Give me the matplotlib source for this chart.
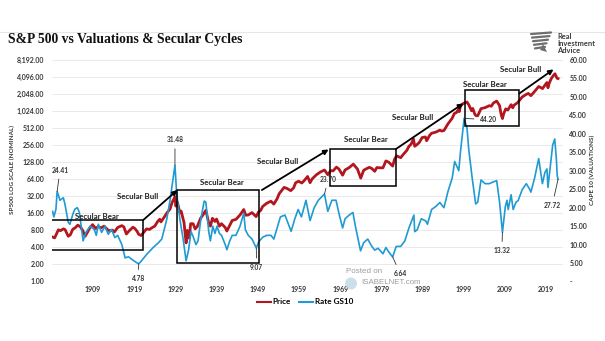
import matplotlib
matplotlib.use("Agg")
import matplotlib.pyplot as plt
from matplotlib.lines import Line2D
from matplotlib.patches import Rectangle, Ellipse, Polygon

plt.rcParams["font.family"] = ["Lato", "DejaVu Sans"]

# S&P 500 composite price (nominal)
price_years = [
    1900.0, 1900.5, 1901.0, 1901.4, 1901.9, 1902.6, 1903.0, 1903.8, 1904.3, 1904.9,
    1905.5, 1906.1, 1906.7, 1907.3, 1907.9, 1908.5, 1909.0, 1909.7, 1910.5, 1911.0,
    1911.8, 1912.5, 1913.3, 1913.9, 1914.5, 1915.0, 1915.8, 1916.8, 1917.3, 1917.9,
    1918.6, 1919.5, 1920.0, 1920.5, 1920.9, 1921.5, 1922.2, 1922.8, 1923.5, 1924.0,
    1924.8, 1925.5, 1926.0, 1926.3, 1927.0, 1927.8, 1928.5, 1929.0, 1929.7, 1929.9,
    1930.3, 1930.9, 1931.2, 1931.9, 1932.4, 1932.7, 1933.0, 1933.2, 1933.5, 1934.1,
    1934.6, 1935.1, 1935.9, 1936.5, 1937.2, 1937.9, 1938.3, 1938.8, 1939.4, 1939.8,
    1940.5, 1941.0, 1941.9, 1942.3, 1942.9, 1943.6, 1944.5, 1945.5, 1946.4, 1946.9,
    1947.5, 1948.4, 1949.4, 1950.0, 1950.5, 1951.0, 1952.0, 1953.0, 1953.7, 1954.5,
    1955.0, 1956.2, 1956.9, 1957.8, 1958.5, 1959.0, 1959.7, 1960.5, 1961.0, 1961.9,
    1962.5, 1963.0, 1964.0, 1965.0, 1966.0, 1966.8, 1967.5, 1968.1, 1968.9, 1969.5,
    1970.4, 1971.0, 1972.0, 1973.0, 1973.6, 1974.0, 1974.8, 1975.5, 1976.0, 1976.9,
    1977.5, 1978.2, 1978.7, 1979.5, 1980.2, 1980.9, 1981.6, 1982.55, 1983.0, 1983.5,
    1984.5, 1985.0, 1986.0, 1986.5, 1987.0, 1987.6, 1987.9, 1988.5, 1989.0, 1989.7,
    1990.5, 1990.8, 1991.0, 1991.5, 1992.0, 1993.0, 1994.0, 1994.5, 1995.0, 1996.0,
    1997.0, 1997.5, 1998.0, 1998.6, 1998.7, 1999.0, 1999.5, 2000.0, 2000.6, 2001.0,
    2001.7, 2002.0, 2002.5, 2002.8, 2003.2, 2004.0, 2005.0, 2006.0, 2006.5, 2007.0,
    2007.8, 2008.5, 2008.9, 2009.2, 2009.5, 2010.0, 2010.5, 2011.3, 2011.7, 2012.0,
    2012.8, 2013.0, 2014.0, 2015.0, 2015.5, 2016.1, 2017.0, 2018.0, 2018.95, 2019.5,
    2020.0, 2020.25, 2020.5, 2021.0, 2021.5, 2021.95, 2022.45, 2022.7,
]
price_values = [
    6.1, 5.9, 7.1, 8.2, 7.9, 8.5, 8.3, 6.3, 6.7, 8.4,
    8.9, 9.9, 9.3, 8.0, 6.3, 7.5, 8.8, 10.1, 8.6, 9.3,
    8.9, 9.5, 8.3, 7.8, 8.1, 7.5, 9.0, 9.7, 9.2, 6.9,
    7.9, 9.1, 8.6, 7.7, 6.8, 6.5, 7.5, 8.5, 8.3, 8.8,
    9.5, 11.5, 12.6, 11.3, 13.4, 16.5, 19.0, 24.9, 31.3, 21.5,
    25.0, 16.5, 17.5, 11.0, 4.8, 8.0, 7.0, 5.8, 10.5, 10.5,
    8.5, 9.3, 13.0, 15.0, 18.1, 10.8, 9.5, 13.1, 11.5, 12.7,
    9.5, 10.5, 9.0, 7.8, 9.5, 12.0, 12.5, 15.0, 18.7, 14.8,
    15.0, 16.5, 14.0, 16.9, 18.0, 21.2, 24.2, 26.2, 23.3, 29.0,
    35.6, 46.0, 44.0, 40.3, 45.0, 55.6, 59.0, 55.0, 59.7, 71.7,
    55.6, 65.0, 76.5, 86.0, 93.3, 77.0, 91.0, 90.0, 105.0, 97.0,
    75.6, 93.5, 103.0, 118.4, 105.0, 97.0, 67.0, 92.0, 96.9, 104.0,
    99.0, 88.5, 103.0, 102.0, 102.0, 135.0, 128.0, 109.4, 144.3, 166.0,
    154.0, 171.6, 208.0, 245.0, 264.5, 329.0, 245.0, 264.0, 285.4, 349.0,
    358.0, 307.0, 325.0, 380.0, 416.0, 435.0, 472.0, 454.0, 465.0, 614.0,
    766.0, 925.0, 963.0, 1120.0, 1000.0, 1248.0, 1370.0, 1425.0, 1480.0, 1335.0,
    1040.0, 1140.0, 900.0, 850.0, 850.0, 1132.0, 1181.0, 1278.0, 1250.0, 1424.0,
    1540.0, 1280.0, 880.0, 757.0, 920.0, 1123.0, 1070.0, 1330.0, 1170.0, 1300.0,
    1430.0, 1480.0, 1822.0, 2028.0, 2100.0, 1918.0, 2275.0, 2790.0, 2560.0, 2940.0,
    3278.0, 2650.0, 3100.0, 3793.0, 4300.0, 4680.0, 3900.0, 3850.0,
]

# Shiller CAPE 10
cape_years = [
    1900.0, 1900.3, 1900.8, 1901.1, 1901.8, 1902.6, 1903.0, 1903.8, 1904.2, 1904.9,
    1905.4, 1906.0, 1906.5, 1907.4, 1908.1, 1909.1, 1910.1, 1910.6, 1911.1, 1911.9,
    1912.7, 1913.5, 1914.3, 1915.1, 1915.8, 1916.8, 1917.6, 1918.4, 1919.6, 1920.4,
    1920.9, 1921.5, 1922.8, 1924.4, 1925.7, 1926.5, 1927.7, 1928.5, 1929.7, 1930.1,
    1930.9, 1931.7, 1932.4, 1933.0, 1933.6, 1934.0, 1934.8, 1935.3, 1936.0, 1936.8,
    1937.2, 1937.9, 1938.3, 1938.9, 1939.4, 1939.9, 1940.5, 1941.0, 1941.9, 1942.3,
    1943.0, 1943.6, 1944.5, 1945.5, 1946.4, 1946.8, 1947.5, 1948.4, 1949.45, 1950.0,
    1951.0, 1952.0, 1953.0, 1953.7, 1954.5, 1955.3, 1956.4, 1957.9, 1958.8, 1959.6,
    1960.4, 1961.5, 1962.5, 1963.5, 1964.5, 1965.4, 1966.0, 1966.8, 1967.8, 1968.8,
    1969.6, 1970.4, 1971.0, 1972.0, 1972.9, 1973.5, 1974.75, 1975.5, 1976.5, 1977.5,
    1978.2, 1979.0, 1980.2, 1980.9, 1981.6, 1982.55, 1983.4, 1984.5, 1985.5, 1986.5,
    1987.7, 1987.9, 1988.5, 1989.5, 1990.6, 1991.0, 1992.0, 1993.0, 1994.0, 1995.0,
    1996.0, 1997.0, 1997.6, 1998.6, 1999.0, 1999.9, 2000.6, 2001.0, 2001.8, 2002.7,
    2003.2, 2004.0, 2005.0, 2006.0, 2007.0, 2007.8, 2008.5, 2009.2, 2009.9, 2010.3,
    2010.6, 2011.3, 2011.8, 2012.5, 2013.0, 2014.0, 2015.0, 2015.8, 2016.1, 2017.0,
    2018.0, 2018.9, 2019.5, 2020.0, 2020.25, 2020.9, 2021.4, 2021.9, 2022.3, 2022.5,
    2022.7,
]
cape_values = [
    19.0, 17.5, 19.5, 24.41, 22.0, 22.7, 20.9, 16.0, 15.5, 18.2,
    19.6, 20.0, 18.7, 11.0, 13.3, 15.0, 14.1, 12.5, 15.5, 13.3,
    15.0, 12.8, 14.1, 11.9, 12.5, 10.0, 6.4, 6.7, 5.7, 5.1,
    4.78, 5.5, 7.3, 9.2, 10.5, 11.5, 16.8, 22.0, 31.48, 24.0,
    16.8, 11.4, 5.6, 8.5, 13.5, 12.5, 10.0, 11.0, 17.0, 21.8,
    21.5, 13.5, 11.0, 15.0, 13.0, 15.0, 13.0, 12.5, 10.0, 8.6,
    11.0, 12.5, 12.5, 15.0, 18.5, 14.0, 12.5, 11.5, 9.07, 10.7,
    12.0, 12.5, 12.5, 11.5, 14.5, 17.5, 18.0, 13.6, 17.0, 19.5,
    17.5, 22.0, 16.5, 20.0, 22.0, 23.0, 23.7, 19.0, 22.0, 22.0,
    18.0, 14.5, 17.0, 18.0, 18.7, 15.0, 8.3, 10.5, 11.5, 9.5,
    8.5, 9.0, 7.5, 9.2, 8.0, 6.64, 9.5, 9.5, 11.0, 14.5,
    18.0, 13.5, 14.0, 17.0, 16.4, 15.5, 19.5, 20.3, 21.4, 20.0,
    24.5, 28.0, 32.5, 30.0, 35.0, 44.2, 41.5, 36.0, 28.5, 21.0,
    21.5, 27.5, 26.5, 26.5, 27.0, 27.3, 21.5, 13.32, 20.3, 22.0,
    19.5, 23.5, 19.5, 21.5, 21.9, 24.9, 26.5, 25.0, 24.2, 28.0,
    33.3, 26.5, 29.5, 30.5, 25.5, 32.0, 37.0, 38.6, 33.0, 28.6,
    27.72,
]

year_labels = ["1909", "1919", "1929", "1939", "1949", "1959", "1969",
               "1979", "1989", "1999", "2009", "2019"]

# secular bear boxes: (start, end, price low, price high)
bear_boxes = [(1899.2, 1922.0, 3.6, 12.2), (1930.3, 1950.0, 2.15, 41.3),
              (1967.4, 1983.3, 49.0, 218.0), (2000.1, 2013.3, 556.0, 2400.0)]
# secular bull arrows: (start year, start price, end year, end price)
bull_arrows = [(1922.0, 12.2, 1930.3, 41.3), (1950.8, 41.3, 1967.0, 215.0),
               (1983.3, 218.0, 1999.7, 1400.0), (2013.3, 2100.0, 2021.6, 5590.0)]
bear_text = [(1910.7, 14.3), (1941.05, 57.0), (1976.0, 328.0), (2005.0, 3070.0)]
bull_text = [(1920.7, 32.3), (1954.7, 134.0), (1987.5, 803.0), (2013.5, 5640.0)]

# CAPE callouts: label, point (year, value), text position (year, value)
cape_notes = [
    ("24.41", 1901.1, 24.41, 1901.8, 30.2),
    ("4.78", 1920.9, 4.78, 1920.8, 0.8),
    ("31.48", 1929.7, 31.48, 1929.7, 38.4),
    ("9.07", 1949.45, 9.07, 1949.55, 3.9),
    ("23.70", 1966.0, 23.7, 1966.9, 27.7),
    ("6.64", 1982.55, 6.64, 1984.35, 2.2),
    ("44.20", 1999.9, 44.2, 2005.7, 43.8),
    ("13.32", 2009.2, 13.32, 2009.05, 8.4),
    ("27.72", 2022.7, 27.72, 2021.3, 20.7),
]

RED = "#B3161E"
BLUE = "#1F9AD3"
TXT = "#383838"
W, H = 605, 341

fig = plt.figure(figsize=(W / 100, H / 100), dpi=100)
ax = fig.add_axes([52 / W, 1 - 281.5 / H, 511 / W, 221.5 / H])
ax2 = ax.twinx()

ax.plot(price_years, price_values, color=RED, lw=2.0, zorder=3)
ax.set_yscale("log", base=2)
ax.set_ylim(1, 8192)
ax.set_xlim(1899.85, 2023.9)
left_ticks = [2 ** i for i in range(14)]
ax.set_yticks(left_ticks)
ax.set_yticklabels([f"{v:,.2f}" for v in left_ticks])
ax.yaxis.set_minor_locator(plt.NullLocator())
ax.set_xticks([int(y) + 0.8 for y in year_labels])
ax.set_xticklabels(year_labels)
ax.grid(axis="y", color="#E6E6E6", lw=0.6)
ax.set_axisbelow(True)
ax.tick_params(axis="y", length=0, pad=5.5, labelsize=5.0, labelcolor=TXT)
ax.tick_params(axis="x", length=0, pad=3.5, labelsize=5.0, labelcolor=TXT)
for lab in ax.get_xticklabels() + ax.get_yticklabels():
    lab.set_fontweight("bold")

ax2.plot(cape_years, cape_values, color=BLUE, lw=1.2, zorder=3)
ax2.set_ylim(0, 60)
right_ticks = list(range(0, 61, 5))
ax2.set_yticks(right_ticks)
ax2.set_yticklabels(["-" if v == 0 else f"{v:.2f}" for v in right_ticks])
ax2.tick_params(axis="y", length=0, pad=4.5, labelsize=5.0, labelcolor=TXT)
for lab in ax2.get_yticklabels():
    lab.set_fontweight("bold")

for a in (ax, ax2):
    for s in a.spines.values():
        s.set_visible(False)

# secular bear boxes and bull arrows (drawn on top)
for x0, x1, lo, hi in bear_boxes:
    ax2.add_patch(Rectangle((x0, lo), x1 - x0, hi - lo, fill=False, ec="black",
                            lw=1.1, transform=ax.transData, zorder=5))
for x0, y0, x1, y1 in bull_arrows:
    ax2.annotate("", xy=(x1, y1), xytext=(x0, y0),
                 xycoords=ax.transData, textcoords=ax.transData,
                 arrowprops=dict(arrowstyle="-|>", lw=1.3, color="black",
                                 mutation_scale=7, shrinkA=0, shrinkB=0),
                 zorder=5)
for x, y in bear_text:
    ax2.text(x, y, "Secular Bear", transform=ax.transData, ha="center",
             va="center", fontsize=5.7, fontweight="bold", color="#222222",
             zorder=6)
for x, y in bull_text:
    ax2.text(x, y, "Secular Bull", transform=ax.transData, ha="center",
             va="center", fontsize=5.7, fontweight="bold", color="#222222",
             zorder=6)

for label, px, py, tx, ty in cape_notes:
    ax2.annotate(label, xy=(px, py), xytext=(tx, ty), ha="center", va="center",
                 fontsize=4.8, fontweight="bold", color="#333333",
                 arrowprops=dict(arrowstyle="-", lw=0.6, color="#333333",
                                 shrinkA=2, shrinkB=0),
                 zorder=6)

# axis titles
fig.text(12 / W, 1 - 170 / H, "SP500 LOG SCALE (NOMINAL)", rotation=90,
         ha="center", va="center", fontsize=4.6, fontweight="bold", color=TXT)
fig.text(592 / W, 1 - 170 / H, "CAPE 10 (VALUATIONS)", rotation=90,
         ha="center", va="center", fontsize=4.6, fontweight="bold", color=TXT)

# title and header line
fig.text(8 / W, 1 - 40 / H, "S&P 500 vs Valuations & Secular Cycles",
         family="Liberation Serif", fontsize=9.8, fontweight="bold",
         ha="left", va="center", color="#111111")
fig.add_artist(Line2D([0, 1], [1 - 32 / H] * 2, color="#E6E6E6", lw=0.8))

# logo
for i, word in enumerate(["Real", "Investment", "Advice"]):
    fig.text(557 / W, 1 - (36.5 + 6.8 * i) / H, word, fontsize=5.4,
             fontweight="bold", color="#3C3C3C", ha="left", va="center")
for i in range(5):
    y = 34 + 3.6 * i
    fig.add_artist(Line2D([(531 + i) / W, (551 - 1.5 * i) / W],
                          [1 - y / H, 1 - (y - 1.5) / H],
                          color="#6E6E6E", lw=1.6, solid_capstyle="round"))
fig.add_artist(Polygon([[540 / W, 1 - 50 / H], [547 / W, 1 - 52 / H],
                        [543 / W, 1 - 44 / H]], closed=True,
                       color="#6E6E6E", lw=0))

# watermark
fig.text(346 / W, 1 - 271.5 / H, "Posted on", family="Liberation Sans",
         fontsize=5.8, color="#9C9C9C", ha="left", va="center")
fig.text(361 / W, 1 - 282.5 / H, "ISABELNET.com", family="Liberation Sans",
         fontsize=5.7, color="#9C9C9C", ha="left", va="center")
fig.add_artist(Ellipse((351 / W, 1 - 283.5 / H), 12 / W, 12 / H,
                       color="#BFD7E6", alpha=0.8, lw=0))

# legend
handles = [Line2D([], [], color=RED, lw=1.5), Line2D([], [], color=BLUE, lw=1.5)]
leg = fig.legend(handles, ["Price", "Rate GS10"], loc="center",
                 bbox_to_anchor=(305 / W, 1 - 302 / H), ncol=2, frameon=False,
                 handlelength=1.7, handletextpad=0.2, columnspacing=1.0,
                 prop={"size": 5.9, "weight": "bold"})

fig.savefig("out.png", dpi=100)
